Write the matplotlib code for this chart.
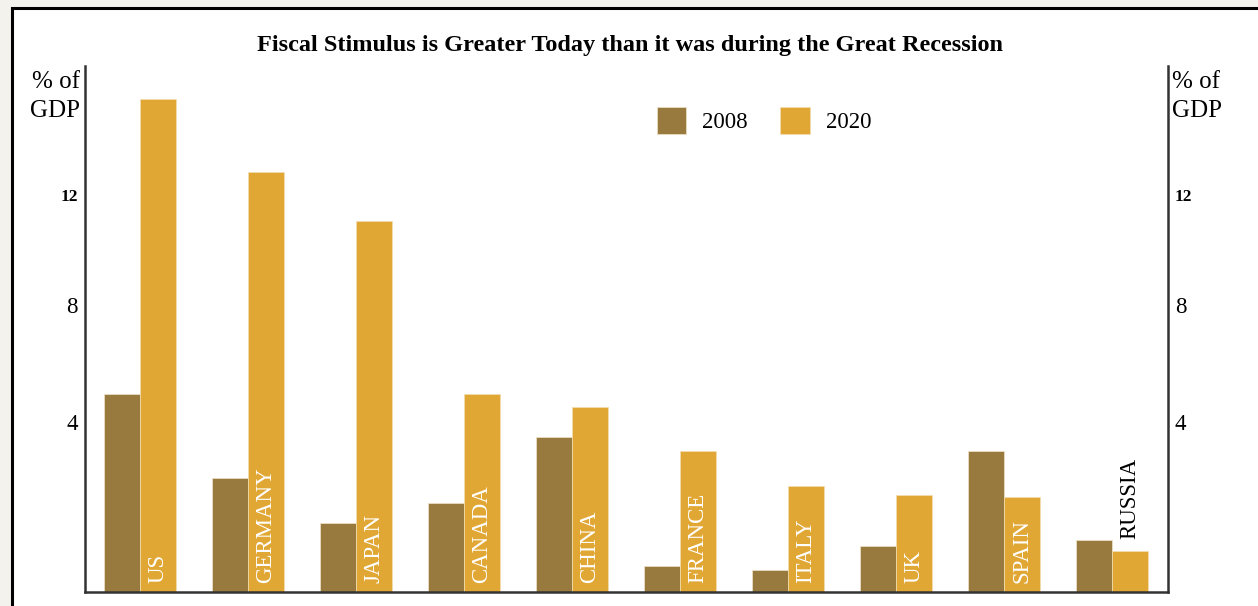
import matplotlib
matplotlib.use("Agg")
import matplotlib.pyplot as plt
from matplotlib.patches import Rectangle
import numpy as np

countries = ["US", "GERMANY", "JAPAN", "CANADA", "CHINA", "FRANCE", "ITALY", "UK", "SPAIN", "RUSSIA"]
vals_2008 = [6.0, 3.45, 2.1, 2.7, 4.7, 0.78, 0.67, 1.38, 4.27, 1.57]
vals_2020 = [14.9, 12.7, 11.2, 6.0, 5.6, 4.27, 3.2, 2.92, 2.88, 1.25]
series_labels = ["2008", "2020"]
tick_labels = ["4", "8", "12"]
tick_positions = [5.14, 8.68, 12.0]

c2008 = "#987a3e"
c2020 = "#e1a734"
serif = ["Liberation Serif", "DejaVu Serif"]

fig = plt.figure(figsize=(12.58, 6.06), dpi=100)
fig.patch.set_facecolor("#f3f2ec")

# white card with black border
card = Rectangle((12 / 1258, -0.05), 1.2, (606 - 8) / 606 + 0.05, transform=fig.transFigure,
                 facecolor="white", edgecolor="black", linewidth=2.2, zorder=-5)
fig.patches.append(card)

ax = fig.add_axes([85 / 1258, (606 - 592) / 606, (1168 - 85) / 1258, (592 - 66) / 606])
ax.set_facecolor("none")
ax.set_zorder(2)

x = np.arange(len(countries))
w = 0.333
b1 = ax.bar(x - w / 2, vals_2008, width=w, color=c2008, edgecolor="#efe3c8", linewidth=0.5,
            label=series_labels[0], zorder=2)
b2 = ax.bar(x + w / 2, vals_2020, width=w, color=c2020, edgecolor="#f3ddb0", linewidth=0.5,
            label=series_labels[1], zorder=2)

for i, name in enumerate(countries):
    if name == "RUSSIA":
        ax.text(x[i] + w / 2, max(vals_2008[i], vals_2020[i]) + 0.02, name, rotation=90,
                ha="center", va="bottom", color="black", fontsize=16.5, family=serif, zorder=3)
    else:
        ax.text(x[i] + w / 2, 0.27, name, rotation=90, ha="center", va="bottom",
                color="white", fontsize=16.5, family=serif, zorder=3)

ax.set_xlim(-0.509, 9.52)
ax.set_ylim(0, 15.9)
ax.set_xticks([])

ax.set_yticks(tick_positions)
ax.set_yticklabels(tick_labels)
ax.tick_params(axis="y", length=0, pad=5, labelsize=16.5, left=True, right=True,
               labelleft=True, labelright=True)
ticks = ax.yaxis.get_major_ticks()
for t in ticks:
    t.label1.set_family(serif)
    t.label2.set_family(serif)
ticks[2].label1.set_fontsize(12.5)
ticks[2].label1.set_fontweight("bold")
ticks[2].label2.set_fontsize(12.5)
ticks[2].label2.set_fontweight("bold")

for s in ["left", "right", "bottom"]:
    ax.spines[s].set_color("#333333")
    ax.spines[s].set_linewidth(1.8)
ax.spines["top"].set_visible(False)

fig.text(80 / 1258, 1 - 71 / 606, "% of\nGDP", ha="right", va="top", fontsize=18,
         family=serif, linespacing=1.4, multialignment="right")
fig.text(1172 / 1258, 1 - 71 / 606, "% of\nGDP", ha="left", va="top", fontsize=18,
         family=serif, linespacing=1.4, multialignment="left")

fig.text(630 / 1258, 1 - 45.5 / 606, "Fiscal Stimulus is Greater Today than it was during the Great Recession",
         ha="center", va="center", fontsize=17.5, fontweight="bold", family=serif)

leg = ax.legend(loc="center", bbox_to_anchor=(0.627, 0.897), ncol=2, frameon=False,
                prop={"family": serif, "size": 16.5}, handlelength=1.3, handleheight=1.45,
                handletextpad=0.7, columnspacing=1.4)

fig.savefig("out.png", dpi=100, facecolor=fig.get_facecolor())
